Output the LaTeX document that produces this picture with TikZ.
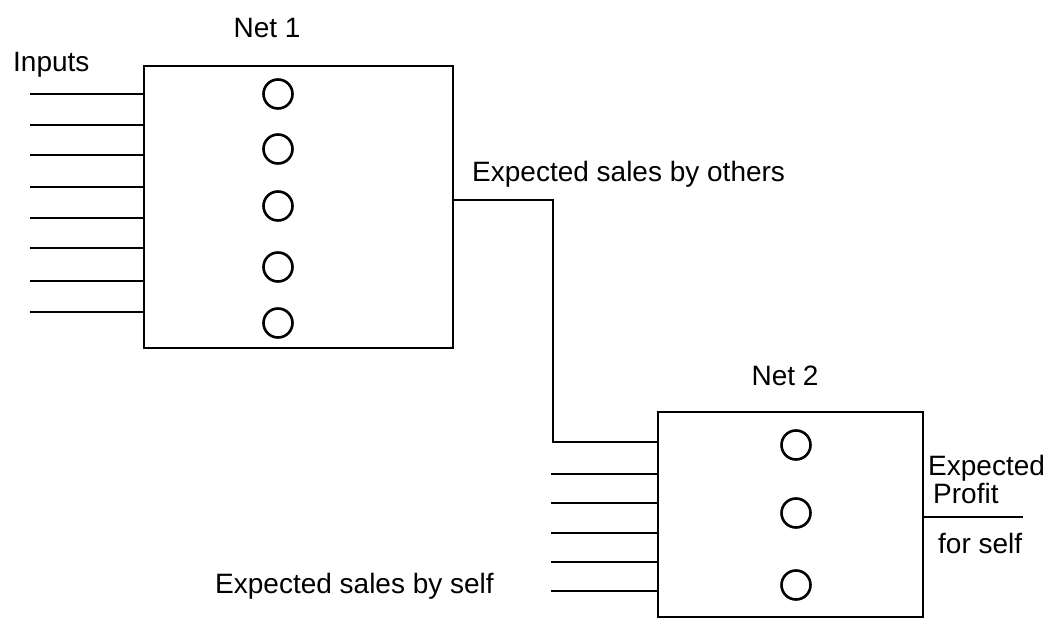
\documentclass[tikz,border=0pt]{standalone}
\usepackage{fontspec}
\setmainfont{Liberation Sans}
\begin{document}
\begin{tikzpicture}[x=1pt,y=-1pt,
  wire/.style={line width=2.9pt},
  netbox/.style={draw, rectangle, line width=2.9pt, inner sep=0pt},
  neuron/.style={draw, circle, minimum size=29pt, inner sep=0pt, line width=2.6pt},
  lbl/.style={font=\fontsize{28}{31}\selectfont, inner sep=0pt}]
\useasboundingbox (0,0) rectangle (1050,620);
% boxes
\node[netbox, minimum width=309pt, minimum height=282pt] (net1) at (298.5,207) {};
\node[netbox, minimum width=265pt, minimum height=205pt] (net2) at (790.5,514.5) {};
% neurons
\foreach \y [count=\i] in {94,149,206,267,323}
  \node[neuron] (a\i) at (278,\y) {};
\foreach \y [count=\i] in {445,513,585}
  \node[neuron] (b\i) at (796,\y) {};
% inputs to net 1
\foreach \y [count=\i] in {94,125,155,187,218,248,281,312} {
  \coordinate (in\i) at (30,\y);
  \draw[wire] (in\i) -- (in\i -| net1.west);
}
% inputs to net 2
\foreach \y [count=\i] in {474,503,533,562,591} {
  \coordinate (s\i) at (551,\y);
  \draw[wire] (s\i) -- (s\i -| net2.west);
}
% connector net1 -> net2
\coordinate (j1) at (553,200);
\coordinate (j2) at (553,442);
\draw[wire] (net1.east |- j1) -- (j1) -- (j2) -- (net2.west |- j2);
% output
\coordinate (out) at (1023,517);
\draw[wire] (net2.east |- out) -- (out);
% labels
\node[lbl, anchor=base] (t1) at (267,38) {Net 1};
\node[lbl, anchor=base west] (t2) at (13,72) {Inputs};
\node[lbl, anchor=base west] (t3) at (472,182) {Expected sales by others};
\node[lbl, anchor=base] (t4) at (785,385) {Net 2};
\node[lbl, anchor=base west] (t5) at (215,593) {Expected sales by self};
\node[lbl, anchor=base west] (t6) at (928,475) {Expected};
\node[lbl, anchor=base west] (t7) at (933,503) {Profit};
\node[lbl, anchor=base west] (t8) at (938,553) {for self};
\end{tikzpicture}
\end{document}
